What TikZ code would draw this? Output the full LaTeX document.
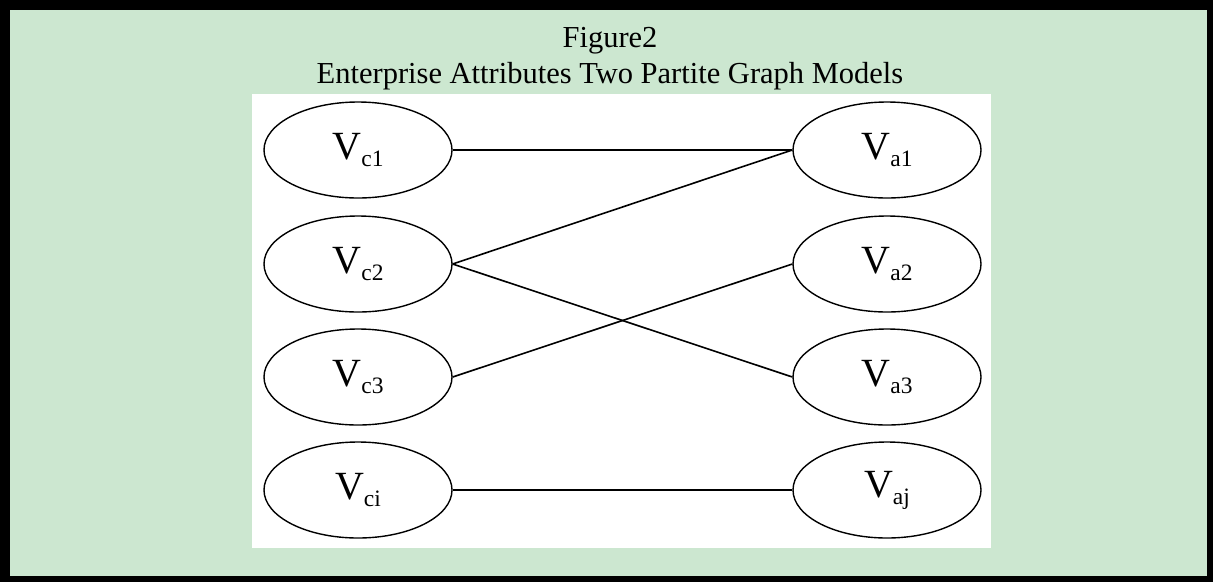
\documentclass[tikz,border=0pt]{standalone}
\usepackage{fontspec}
\setmainfont{Liberation Serif}
\usetikzlibrary{shapes.geometric}
\definecolor{bggreen}{RGB}{204,231,208}
\newcommand{\vlab}[1]{{\fontsize{40}{40}\selectfont V}\raisebox{-7pt}{\fontsize{23.5}{24}\selectfont #1}}
\tikzset{
  vert/.style={ellipse, draw=black, line width=1.4pt, minimum width=188pt, minimum height=96pt, inner sep=0pt, fill=white},
  edge/.style={draw=black, line width=1.6pt},
  title/.style={anchor=base, inner sep=0pt, font=\fontsize{30.5}{36}\selectfont, text=black}
}
\begin{document}
\begin{tikzpicture}[x=1pt,y=-1pt]
\useasboundingbox (0,0) rectangle (1213,582);
\fill[black] (0,0) rectangle (1213,582);
\fill[bggreen] (10,10) rectangle (1207,576);
\fill[white] (252,94) rectangle (991,548);
\node[title] (t1) at (610,47) {Figure2};
\node[title] (t2) at (610,83) {Enterprise Attributes Two Partite Graph Models};
\node[vert] (c1) at (358,150) {\vlab{c1}};
\node[vert] (c2) at (358,264) {\vlab{c2}};
\node[vert] (c3) at (358,377) {\vlab{c3}};
\node[vert] (ci) at (358,490) {\vlab{ci}};
\node[vert] (a1) at (887,150) {\vlab{a1}};
\node[vert] (a2) at (887,264) {\vlab{a2}};
\node[vert] (a3) at (887,377) {\vlab{a3}};
\node[vert] (aj) at (887,490) {\vlab{aj}};
\draw[edge] (c1.east) -- (a1.west);
\draw[edge] (c2.east) -- (a1.west);
\draw[edge] (c2.east) -- (a3.west);
\draw[edge] (c3.east) -- (a2.west);
\draw[edge] (ci.east) -- (aj.west);
\end{tikzpicture}
\end{document}
